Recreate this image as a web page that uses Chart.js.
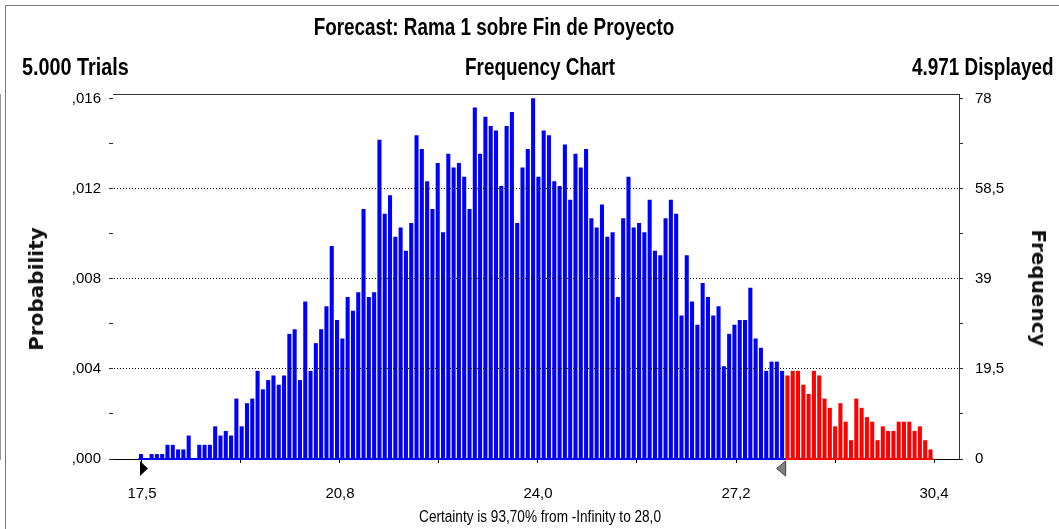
<!DOCTYPE html>
<html>
<head>
<meta charset="utf-8">
<script src="https://cdn.jsdelivr.net/npm/chart.js@4.4.1/dist/chart.umd.min.js"></script>
<style>
  body { margin: 0; background: #fff; width: 1059px; height: 529px; overflow: hidden; position: relative; font-family: 'Liberation Sans', Arial, sans-serif; }
  canvas { position: absolute; left: 0; top: 0; }
  .edge { position: absolute; background: #7a7a7a; z-index: 10; }
  #edgeTop { left: 5px; top: 5px; width: 1054px; height: 1px; }
  #edgeLeft { left: 5px; top: 5px; width: 1px; height: 524px; }
  .t { position: absolute; white-space: nowrap; font-weight: bold; font-size: 23px; line-height: 23px; color: #000; }
  .ax { position: absolute; white-space: nowrap; font-family: 'DejaVu Sans', sans-serif; font-weight: bold; font-size: 20px; line-height: 20px; color: #111; }
  #title { left: 494px; top: 16px; transform: translateX(-50%) scaleX(0.82); }
  #trials { left: 22px; top: 56px; transform-origin: left center; transform: scaleX(0.86); }
  #sub { left: 540px; top: 56px; transform: translateX(-50%) scaleX(0.82); }
  #shown { right: 5px; top: 56px; transform-origin: right center; transform: scaleX(0.82); }
  #note { position: absolute; left: 540px; top: 509px; white-space: nowrap; font-size: 16px; line-height: 16px; transform: translateX(-50%) scaleX(0.85); }
  #ytl { left: 36px; top: 289px; transform: translate(-50%, -50%) rotate(-90deg); }
  #ytr { left: 1039px; top: 288px; transform: translate(-50%, -50%) rotate(90deg); }
</style>
</head>
<body>
<canvas id="chart" width="1059" height="529"></canvas>
<div class="edge" id="edgeTop"></div>
<div class="edge" id="edgeLeft"></div>
<div class="t" id="title">Forecast: Rama 1 sobre Fin de Proyecto</div>
<div class="t" id="trials">5.000 Trials</div>
<div class="t" id="sub">Frequency Chart</div>
<div class="t" id="shown">4.971 Displayed</div>
<div class="ax" id="ytl">Probability</div>
<div class="ax" id="ytr">Frequency</div>
<div id="note">Certainty is 93,70% from -Infinity to 28,0</div>
<script>
// datos del histograma (150 celdas)
const binStart = 17.484;
const binWidth = 0.0863;
const frequency = [
  1, 0, 1, 1, 1, 3, 3, 2, 2, 5,
  0, 3, 3, 3, 7, 5, 6, 5, 13, 7,
  12, 13, 19, 15, 17, 18, 16, 18, 27, 28,
  17, 34, 19, 25, 28, 33, 46, 30, 26, 35,
  32, 36, 54, 35, 36, 69, 53, 57, 48, 50,
  45, 51, 70, 67, 60, 54, 64, 49, 66, 63,
  64, 61, 54, 76, 66, 74, 72, 71, 59, 72,
  75, 51, 63, 67, 78, 61, 71, 70, 60, 59,
  68, 56, 66, 63, 67, 52, 50, 55, 48, 49,
  35, 52, 61, 50, 51, 49, 56, 45, 44, 52,
  56, 53, 31, 44, 34, 29, 38, 35, 31, 33,
  20, 27, 29, 30, 30, 37, 26, 24, 19, 21,
  21, 19, 18, 19, 19, 16, 14, 19, 18, 13,
  11, 7, 12, 8, 4, 13, 11, 9, 8, 4,
  7, 6, 6, 8, 8, 8, 6, 7, 4, 2
];
const certaintyFrom = 17.5;
const certaintyTo = 28.0;

// ejes
const xMin = 17.028, xMax = 30.807;
const xLabelValues = [17.5, 20.725, 23.95, 27.175, 30.4];
const xTickLabels = ['17,5', '20,8', '24,0', '27,2', '30,4'];
const probTicks = [0, 0.004, 0.008, 0.012, 0.016];
const probTickLabels = [',000', ',004', ',008', ',012', ',016'];
const freqTicks = [0, 19.5, 39, 58.5, 78];
const freqTickLabels = ['0', '19,5', '39', '58,5', '78'];
const probAxisMax = 0.0162;

const tickFont = { family: "'Liberation Sans', Arial, sans-serif", size: 15 };

// centros de celda y separacion azul/rojo
const centers = frequency.map((_, i) => binStart + i * binWidth);
const inside = [], outside = [];
centers.forEach((x, i) => {
  (x < certaintyTo ? inside : outside).push({ x: x, y: frequency[i] });
});

// agrega marcas intermedias entre los valores etiquetados
function withMinor(values) {
  const out = [];
  values.forEach((v, i) => {
    out.push({ value: v });
    if (i < values.length - 1) out.push({ value: (v + values[i + 1]) / 2 });
  });
  return out;
}

const framePlugin = {
  id: 'frameTop',
  beforeDatasetsDraw(chart) {
    const a = chart.chartArea, ctx = chart.ctx;
    ctx.save();
    ctx.strokeStyle = '#333';
    ctx.lineWidth = 1;
    ctx.beginPath();
    ctx.moveTo(a.left, a.top + 0.5);
    ctx.lineTo(a.right, a.top + 0.5);
    ctx.stroke();
    ctx.restore();
  }
};

// triangulos de certeza bajo el eje
const markerPlugin = {
  id: 'markers',
  afterDraw(chart) {
    const ctx = chart.ctx;
    const x = chart.scales.x;
    const y0 = chart.chartArea.bottom + 2;
    const p1 = x.getPixelForValue(certaintyFrom);
    const p2 = x.getPixelForValue(certaintyTo) - 1;
    ctx.save();
    ctx.fillStyle = '#000';
    ctx.beginPath();
    ctx.moveTo(p1 - 2, y0);
    ctx.lineTo(p1 + 6, y0 + 7.5);
    ctx.lineTo(p1 - 2, y0 + 15);
    ctx.closePath();
    ctx.fill();
    ctx.fillStyle = '#808080';
    ctx.strokeStyle = '#404040';
    ctx.beginPath();
    ctx.moveTo(p2, y0);
    ctx.lineTo(p2 - 9, y0 + 7.5);
    ctx.lineTo(p2, y0 + 15);
    ctx.closePath();
    ctx.fill();
    ctx.stroke();
    ctx.restore();
  }
};

const chart = new Chart(document.getElementById('chart'), {
  type: 'bar',
  data: {
    datasets: [
      { label: 'dentro', data: inside, backgroundColor: '#0000ff', barThickness: 3.4, grouped: false, yAxisID: 'freq' },
      { label: 'fuera', data: outside, backgroundColor: '#ff0000', barThickness: 3.4, grouped: false, yAxisID: 'freq' },
      { type: 'line', data: [{ x: inside[0].x - binWidth / 2, y: 0 }, { x: inside[inside.length - 1].x + binWidth / 2, y: 0 }],
        borderColor: '#0000ff', borderWidth: 2, pointRadius: 0, clip: false, yAxisID: 'freq' },
      { type: 'line', data: [{ x: outside[0].x - binWidth / 2, y: 0 }, { x: outside[outside.length - 1].x + binWidth / 2, y: 0 }],
        borderColor: '#ff0000', borderWidth: 2, pointRadius: 0, clip: false, yAxisID: 'freq' }
    ]
  },
  options: {
    responsive: false,
    animation: false,
    layout: { padding: { top: 94, left: 0, right: 0, bottom: 0 } },
    plugins: { legend: { display: false }, tooltip: { enabled: false } },
    scales: {
      x: {
        type: 'linear', min: xMin, max: xMax, bounds: 'data', offset: false,
        afterBuildTicks: s => { s.ticks = withMinor(xLabelValues); },
        afterFit: s => { s.height = 70; },
        ticks: {
          autoSkip: false, maxRotation: 0, padding: 22, color: '#000', font: tickFont,
          callback: (v, i) => (i % 2 === 0 ? xTickLabels[i / 2] : '')
        },
        grid: { drawOnChartArea: false, offset: false, tickLength: 4, tickColor: '#000' },
        border: { color: '#000' }
      },
      prob: {
        type: 'linear', position: 'left', min: 0, max: probAxisMax,
        afterBuildTicks: s => { s.ticks = withMinor(probTicks); },
        afterFit: s => { s.width = 113; },
        ticks: {
          padding: 8, color: '#000', font: tickFont,
          callback: (v, i) => (i % 2 === 0 ? probTickLabels[i / 2] : '')
        },
        grid: {
          z: 1, tickLength: 4, tickColor: '#333',
          color: c => (c.index % 2 === 0 && c.index > 0 && c.index < 8 ? '#000' : 'rgba(0,0,0,0)')
        },
        border: { color: '#333', dash: [1, 2] }
      },
      freq: {
        type: 'linear', position: 'right', min: 0, max: freqTicks[4] * probAxisMax / probTicks[4],
        afterBuildTicks: s => { s.ticks = withMinor(freqTicks); },
        afterFit: s => { s.width = 100; },
        ticks: {
          padding: 12, color: '#000', font: tickFont,
          callback: (v, i) => (i % 2 === 0 ? freqTickLabels[i / 2] : '')
        },
        grid: { drawOnChartArea: false, tickLength: 4, tickColor: '#333' },
        border: { color: '#333' }
      }
    }
  },
  plugins: [framePlugin, markerPlugin]
});
</script>
</body>
</html>
